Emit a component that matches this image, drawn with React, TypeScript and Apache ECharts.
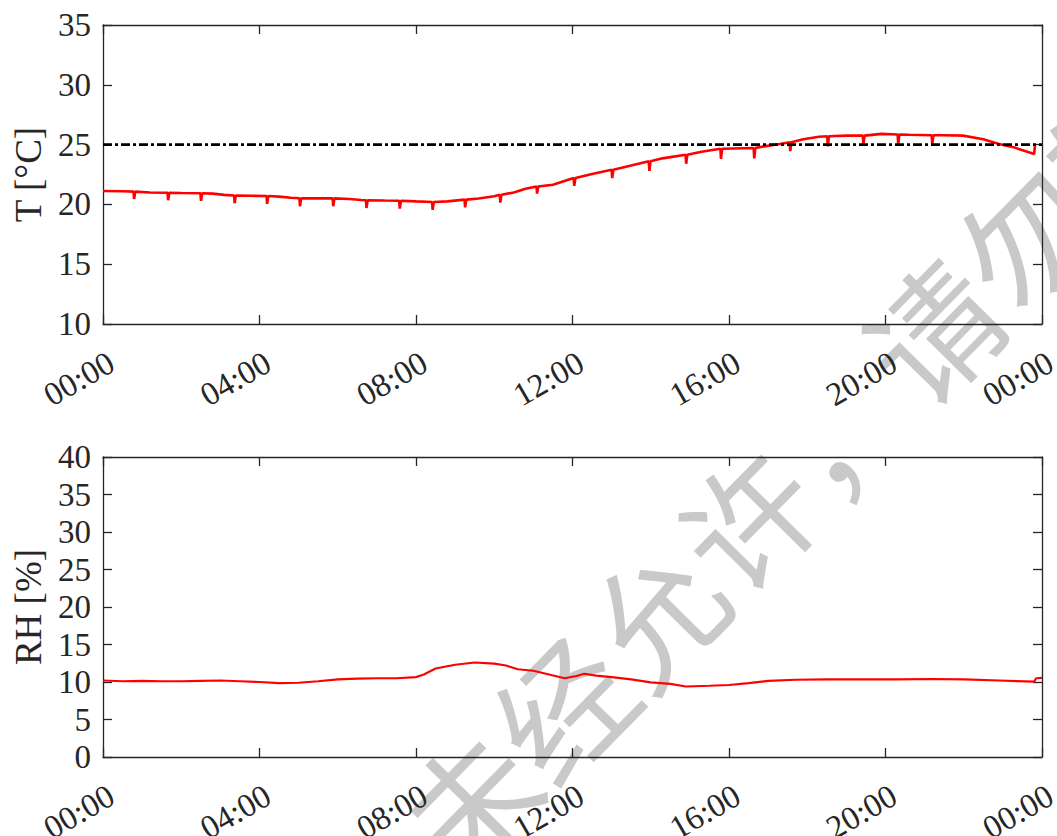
import React, { useEffect, useRef } from 'react';
import * as echarts from 'echarts';

// ---- data ----
const X_TICK_LABELS = ['00:00', '04:00', '08:00', '12:00', '16:00', '20:00', '00:00'];

// temperature baseline [hour, °C]
const T_BASE: [number, number][] = [
  [0, 21.12], [0.5, 21.1], [1.2, 21.0], [2.0, 20.95], [2.8, 20.9], [3.1, 20.8],
  [3.8, 20.72], [4.5, 20.65], [4.8, 20.55], [5.5, 20.5], [6.3, 20.45], [6.6, 20.37],
  [7.2, 20.32], [8.0, 20.25], [8.8, 20.25], [9.6, 20.5], [10.0, 20.68], [10.5, 21.0],
  [10.8, 21.3], [11.5, 21.65], [12.5, 22.55], [13.5, 23.25], [14.3, 23.85], [15.3, 24.4],
  [16.1, 24.68], [16.9, 24.85], [17.3, 25.05], [17.9, 25.45], [18.3, 25.65], [19.0, 25.75],
  [19.9, 25.9], [20.6, 25.82], [21.5, 25.78], [21.98, 25.75], [22.5, 25.45], [22.9, 25.05],
  [23.3, 24.75], [23.8, 24.22], [23.82, 24.9],
];

// periodic short drops in temperature [hour, value before drop, lowest value]
const T_DIPS: [number, number, number][] = [
  [0.78, 21.07, 20.45], [1.65, 20.98, 20.35], [2.49, 20.93, 20.3], [3.35, 20.75, 20.1],
  [4.18, 20.7, 20.05], [5.02, 20.52, 19.85], [5.87, 20.5, 19.85], [6.72, 20.35, 19.7],
  [7.57, 20.3, 19.65], [8.41, 20.2, 19.55], [9.24, 20.4, 19.75], [10.14, 20.8, 20.15],
  [11.08, 21.5, 20.9], [12.03, 22.2, 21.55], [13.0, 22.9, 22.2], [13.95, 23.6, 22.8],
  [14.89, 24.15, 23.4], [15.78, 24.65, 23.8], [16.63, 24.72, 23.85], [17.55, 25.2, 24.45],
  [18.51, 25.7, 24.85], [19.42, 25.75, 25.0], [20.31, 25.85, 25.0], [21.18, 25.78, 25.05],
];

const T_LIMIT = 25;

// relative humidity [hour, %]
const RH_DATA: [number, number][] = [
  [0, 10.2], [0.5, 10.1], [1, 10.15], [1.5, 10.1], [2, 10.1], [2.5, 10.15], [3, 10.2],
  [3.5, 10.1], [4, 10.0], [4.5, 9.85], [5, 9.9], [5.5, 10.1], [6, 10.35], [6.5, 10.45],
  [7, 10.5], [7.5, 10.5], [8, 10.65], [8.2, 11.0], [8.5, 11.8], [9, 12.3], [9.5, 12.6],
  [10, 12.45], [10.3, 12.2], [10.6, 11.7], [11.0, 11.5], [11.4, 11.0], [11.8, 10.5],
  [12.1, 10.8], [12.3, 11.1], [12.6, 10.85], [13.0, 10.65], [13.5, 10.35], [14.0, 9.95],
  [14.5, 9.75], [14.9, 9.4], [15.5, 9.5], [16.0, 9.6], [16.5, 9.85], [17.0, 10.15],
  [17.7, 10.3], [18.5, 10.35], [19.4, 10.35], [20.3, 10.35], [21.2, 10.4], [22.0, 10.35],
  [22.9, 10.2], [23.8, 10.05], [23.85, 10.5], [24, 10.55],
];

const T_RANGE = [10, 35];
const RH_RANGE = [0, 40];
const WATERMARK = '未经允许，请勿转载';

function buildTemperature(): number[][] {
  const pts: number[][] = T_BASE.map((p) => [p[0], p[1]]);
  for (const [t, top, low] of T_DIPS) {
    pts.push([t, top], [t + 0.015, low], [t + 0.045, top]);
  }
  pts.sort((a, b) => a[0] - b[0]);
  return pts;
}

const AXIS_COLOR = '#262626';
const SERIF = '"Liberation Serif", "Times New Roman", serif';

function xAxes(gridIndex: number) {
  const line = { show: true, onZero: false, lineStyle: { color: AXIS_COLOR, width: 1.3 } };
  const tick = { show: true, inside: true, length: 9, lineStyle: { color: AXIS_COLOR, width: 1.3 } };
  return [
    {
      gridIndex, type: 'value', min: 0, max: 24, interval: 4, position: 'bottom', z: 3,
      axisLine: line, axisTick: tick, splitLine: { show: false },
      axisLabel: {
        rotate: 30, margin: 41, padding: [0, -10, 0, 0],
        fontFamily: SERIF, fontSize: 33, color: AXIS_COLOR,
        formatter: (v: number) => X_TICK_LABELS[Math.round(v / 4)],
      },
    },
    {
      gridIndex, type: 'value', min: 0, max: 24, interval: 4, position: 'top', z: 3,
      axisLine: line, axisTick: tick, splitLine: { show: false }, axisLabel: { show: false },
    },
  ];
}

function yAxes(gridIndex: number, range: number[], name: string) {
  const line = { show: true, onZero: false, lineStyle: { color: AXIS_COLOR, width: 1.3 } };
  const tick = { show: true, inside: true, length: 9, lineStyle: { color: AXIS_COLOR, width: 1.3 } };
  return [
    {
      gridIndex, type: 'value', min: range[0], max: range[1], interval: 5, position: 'left', z: 3,
      axisLine: line, axisTick: tick, splitLine: { show: false },
      axisLabel: { margin: 12, fontFamily: SERIF, fontSize: 33, color: AXIS_COLOR },
      name, nameLocation: 'middle', nameGap: 55,
      nameTextStyle: { fontFamily: SERIF, fontSize: 37, color: AXIS_COLOR },
    },
    {
      gridIndex, type: 'value', min: range[0], max: range[1], interval: 5, position: 'right', z: 3,
      axisLine: line, axisTick: tick, splitLine: { show: false }, axisLabel: { show: false },
    },
  ];
}

export default function App() {
  const ref = useRef<HTMLDivElement>(null);
  useEffect(() => {
    if (!ref.current) return;
    const chart = echarts.init(ref.current, undefined, { renderer: 'svg' });
    chart.setOption({
      animation: false,
      backgroundColor: '#ffffff',
      grid: [
        { left: 103, right: 15, top: 25, height: 299, containLabel: false, outerBoundsMode: 'none' },
        { left: 103, right: 15, top: 457, height: 300, containLabel: false, outerBoundsMode: 'none' },
      ],
      xAxis: [...xAxes(0), ...xAxes(1)],
      yAxis: [
        ...yAxes(0, T_RANGE, 'T [°C]'),
        ...yAxes(1, RH_RANGE, 'RH [%]'),
      ],
      graphic: {
        elements: [
          {
            type: 'text', z: -10, silent: true,
            x: 421, y: 846, rotation: (45.5 * Math.PI) / 180,
            style: {
              text: WATERMARK, fontSize: 132, fontFamily: '"Noto Sans CJK SC"',
              fill: '#c9c9c9', textAlign: 'left', textVerticalAlign: 'middle',
              align: 'left', verticalAlign: 'middle',
            },
          },
        ],
      },
      series: [
        {
          name: 'T', type: 'line', xAxisIndex: 0, yAxisIndex: 0, z: 5,
          data: buildTemperature(), showSymbol: false, symbol: 'none',
          lineStyle: { color: '#ff0000', width: 2.6 },
        },
        {
          name: 'limit', type: 'line', xAxisIndex: 0, yAxisIndex: 0, z: 6,
          data: [[0, T_LIMIT], [24, T_LIMIT]], showSymbol: false, symbol: 'none',
          lineStyle: { color: '#000000', width: 2.6, type: [9, 3, 3, 3] },
        },
        {
          name: 'RH', type: 'line', xAxisIndex: 2, yAxisIndex: 2, z: 5,
          data: RH_DATA, showSymbol: false, symbol: 'none',
          lineStyle: { color: '#ff0000', width: 2.2 },
        },
      ],
    });
    return () => chart.dispose();
  }, []);
  return (
    <div
      ref={ref}
      style={{ position: 'fixed', left: 0, top: 0, width: 1057, height: 836, background: '#fff' }}
    />
  );
}
